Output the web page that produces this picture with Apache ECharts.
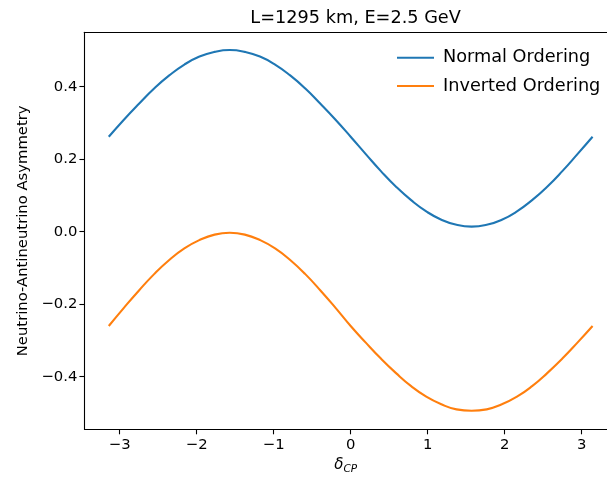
<!DOCTYPE html>
<html>
<head>
<meta charset="utf-8">
<script src="https://cdn.jsdelivr.net/npm/echarts@6/dist/echarts.min.js"></script>
<style>html,body{margin:0;padding:0;background:#fff}#c{width:607px;height:479px}</style>
</head>
<body>
<div id="c"></div>
<script>
var deltaCP = [-3.1416, -2.9452, -2.7489, -2.5525, -2.3562, -2.1598, -1.9635, -1.7671, -1.5708, -1.3744, -1.1781, -0.9817, -0.7854, -0.5890, -0.3927, -0.1963, 0, 0.1963, 0.3927, 0.5890, 0.7854, 0.9817, 1.1781, 1.3744, 1.5708, 1.7671, 1.9635, 2.1598, 2.3562, 2.5525, 2.7489, 2.9452, 3.1416];
var normalOrdering = [0.262, 0.309, 0.353, 0.395, 0.431, 0.461, 0.483, 0.496, 0.501, 0.496, 0.483, 0.461, 0.431, 0.395, 0.353, 0.309, 0.262, 0.214, 0.167, 0.124, 0.087, 0.056, 0.033, 0.019, 0.014, 0.019, 0.033, 0.056, 0.087, 0.124, 0.167, 0.214, 0.262];
var invertedOrdering = [-0.260, -0.210, -0.162, -0.117, -0.078, -0.046, -0.023, -0.008, -0.003, -0.008, -0.023, -0.046, -0.078, -0.117, -0.162, -0.210, -0.260, -0.306, -0.350, -0.390, -0.426, -0.455, -0.476, -0.490, -0.494, -0.490, -0.476, -0.455, -0.426, -0.390, -0.350, -0.306, -0.260];
var xTicks = [-3, -2, -1, 0, 1, 2, 3];
var yTicks = [-0.4, -0.2, 0.0, 0.2, 0.4];
var seriesNames = ['Normal Ordering', 'Inverted Ordering'];

function pairs(xs, ys) { return xs.map(function (x, i) { return [x, ys[i]]; }); }
function minus(s) { return String(s).replace('-', '\u2212'); }
var font = 'DejaVu Sans';

var chart = echarts.init(document.getElementById('c'), null, { renderer: 'canvas' });
chart.setOption({
  animation: false,
  backgroundColor: '#fff',
  title: {
    text: 'L=1295 km, E=2.5 GeV',
    left: 350.6, top: 4, textAlign: 'center',
    textStyle: { fontFamily: font, fontSize: 17.7, fontWeight: 'normal', color: '#000' }
  },
  legend: {
    orient: 'vertical', left: 392, top: 42.7,
    itemWidth: 37, itemHeight: 2, itemGap: 8.3, icon: 'rect',
    data: seriesNames,
    textStyle: { fontFamily: font, fontSize: 17.7, color: '#000', lineHeight: 20, padding: [0, 0, 0, 4] }
  },
  grid: {
    left: 84.4, top: 32.3, right: 0, bottom: 49.7, show: false,
    containLabel: false, outerBoundsMode: 'none'
  },
  xAxis: [{
    type: 'value', min: -3.458, max: 3.329,
    name: '{d|δ}{s|CP}', nameLocation: 'middle', nameGap: 26,
    nameTextStyle: {
      rich: {
        d: { fontFamily: font, fontStyle: 'italic', fontSize: 15, color: '#000' },
        s: { fontFamily: font, fontStyle: 'italic', fontSize: 10.5, color: '#000', padding: [8, 0, 0, 0] }
      }
    },
    splitLine: { show: false },
    axisLine: { onZero: false, lineStyle: { color: '#000', width: 1.1 } },
    axisTick: { show: true, length: 5, lineStyle: { color: '#000', width: 1.1 }, customValues: xTicks },
    axisLabel: { fontFamily: font, fontSize: 14.8, color: '#000', margin: 8, customValues: xTicks,
      formatter: function (v) { return minus(Math.round(v)); } }
  }, {
    type: 'value', position: 'top', min: -3.458, max: 3.329,
    splitLine: { show: false }, axisTick: { show: false }, axisLabel: { show: false },
    axisLine: { show: true, onZero: false, lineStyle: { color: '#000', width: 1.1 } }
  }],
  yAxis: {
    type: 'value', min: -0.545, max: 0.550,
    name: 'Neutrino-Antineutrino Asymmetry', nameLocation: 'middle', nameGap: 54,
    nameTextStyle: { fontFamily: font, fontSize: 14.8, color: '#000' },
    splitLine: { show: false },
    axisLine: { onZero: false, lineStyle: { color: '#000', width: 1.1 } },
    axisTick: { show: true, length: 5, lineStyle: { color: '#000', width: 1.1 }, customValues: yTicks },
    axisLabel: { fontFamily: font, fontSize: 14.8, color: '#000', margin: 7, customValues: yTicks,
      formatter: function (v) { return minus(v.toFixed(1)); } }
  },
  series: [
    { name: seriesNames[0], type: 'line', data: pairs(deltaCP, normalOrdering), smooth: true,
      showSymbol: false, color: '#1f77b4', lineStyle: { width: 2.1, color: '#1f77b4' } },
    { name: seriesNames[1], type: 'line', data: pairs(deltaCP, invertedOrdering), smooth: true,
      showSymbol: false, color: '#ff7f0e', lineStyle: { width: 2.1, color: '#ff7f0e' } }
  ]
});
</script>
</body>
</html>
